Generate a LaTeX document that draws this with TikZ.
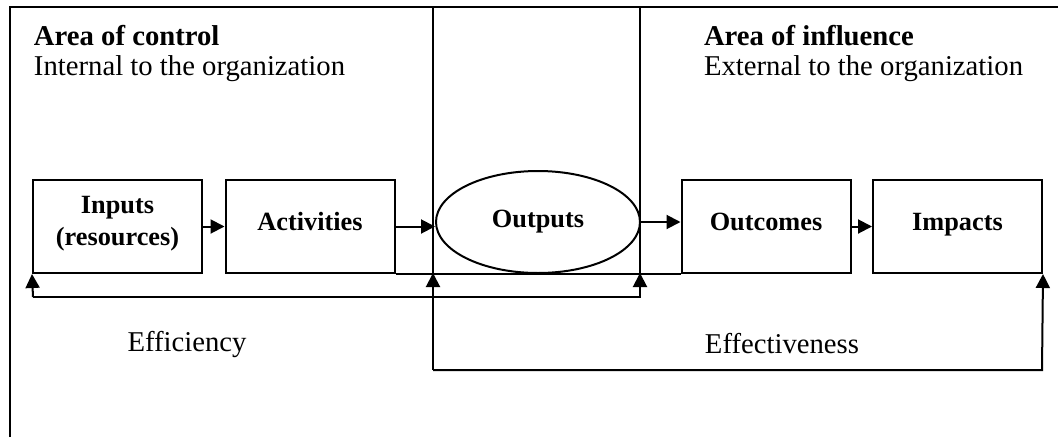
\documentclass[tikz,border=0pt]{standalone}
\usepackage{fontspec}
\setmainfont{Liberation Serif}
\usetikzlibrary{arrows.meta,shapes.geometric}
\begin{document}
\begin{tikzpicture}[x=1pt,y=-1pt,
  line width=2pt,
  boxnode/.style={draw, rectangle, minimum width=169pt, minimum height=93pt, inner sep=0pt,
    font=\fontsize{26.3}{32}\selectfont\bfseries, align=center},
  oneline/.style={text height=18pt, text depth=11pt},
  ellnode/.style={draw, ellipse, minimum width=204pt, minimum height=102pt, inner sep=0pt,
    text height=18pt, text depth=8pt,
    font=\fontsize{26.3}{32}\selectfont\bfseries},
  arr/.style={-{Triangle[length=14pt,width=14pt]}},
  head/.style={anchor=base west, inner sep=0pt, font=\fontsize{28.7}{30}\selectfont\bfseries},
  sub/.style={anchor=base west, inner sep=0pt, font=\fontsize{28.7}{30}\selectfont},
  lab/.style={inner sep=0pt, font=\fontsize{28.7}{30}\selectfont}]
\useasboundingbox (0,0) rectangle (1058,437);
% frame and zone separators
\draw (10,437) -- (10,7) -- (1058,7);
\draw (433,7) -- (433,273);
\draw (640,7) -- (640,273);
% texts
\node[head] (t1) at (33,45) {Area of control};
\node[sub] (t2) at (33,75) {Internal to the organization};
\node[head] (t3) at (703,45) {Area of influence};
\node[sub] (t4) at (703,75) {External to the organization};
% nodes
\node[boxnode] (inp) at (117.5,226.5) {Inputs\\(resources)\rule[-12pt]{0pt}{0pt}};
\node[boxnode, oneline] (act) at (310,226.5) {Activities};
\node[ellnode] (outp) at (538,222) {Outputs};
\node[boxnode, oneline] (outc) at (766,226.5) {Outcomes};
\node[boxnode, oneline] (imp) at (957.5,226.5) {Impacts};
% chain arrows
\draw[arr] (inp.east) -- (act.west);
\draw[arr] (act.east) -- (act.east -| outp.west);
\draw[arr] (outp.east) -- (outc.west |- outp.east);
\draw[arr] (outc.east) -- (imp.west);
\draw (act.south east) -- (outc.south west);
% efficiency
\coordinate (e1) at (33,297);
\coordinate (e2) at (640,297);
\coordinate (e2t) at (640,273);
\draw[arr] (e1) -- (inp.south west);
\draw[arr] (e1) -- (e2) -- (e2t);
% effectiveness
\coordinate (f1) at (433,370);
\coordinate (f1t) at (433,273);
\coordinate (f2) at (1042,370);
\draw[arr] (f1) -- (f1t);
\draw[arr] (f1) -- (f2) -- (imp.south east);
\node[lab] (eff) at (187,344) {Efficiency};
\node[lab] (effv) at (782,344) {Effectiveness};
\end{tikzpicture}
\end{document}
